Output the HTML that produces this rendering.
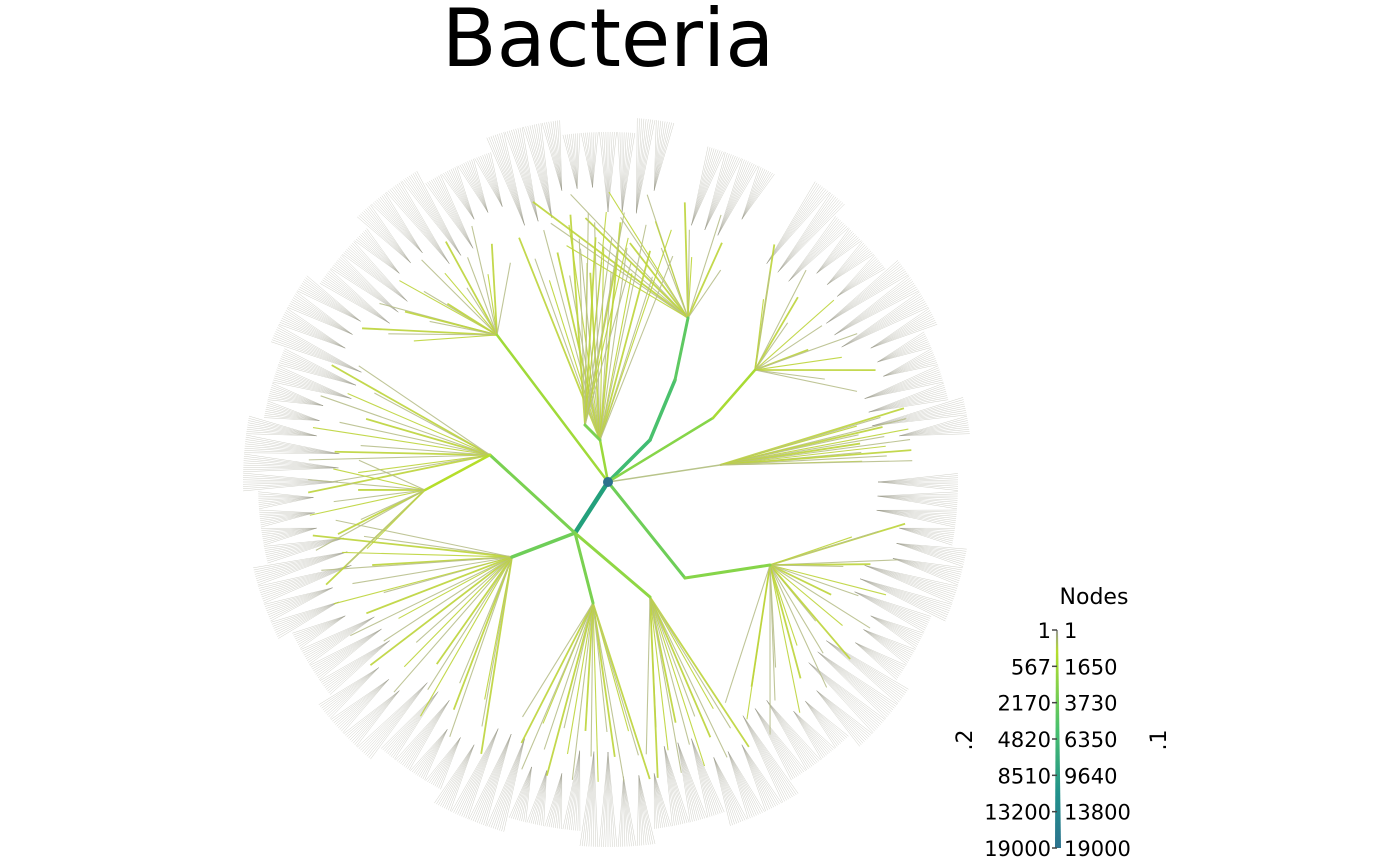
<!DOCTYPE html>
<html><head><meta charset="utf-8"><style>
html,body{margin:0;padding:0;background:#fff;}
svg{display:block;font-family:"DejaVu Sans","Liberation Sans",sans-serif;}
</style></head><body>
<svg id="chart" width="1400" height="866" viewBox="0 0 1400 866">
<text x="608" y="66" font-size="80" text-anchor="middle" fill="#000">Bacteria</text>
<g id="fuzz"></g>
<g id="edges"></g>
<g id="legend">
<text x="1094" y="604" font-size="22" text-anchor="middle">Nodes</text>
<text transform="translate(972,740) rotate(-90)" font-size="22" text-anchor="middle">.2</text>
<text transform="translate(1166,740) rotate(-90)" font-size="22" text-anchor="middle">.1</text>
</g>
</svg>
<script>
const cx=608, cy=482;
const cladeNames=["A","A1","A2","A3","E","H","B","B1","B2","C","C2","D","D1","G","G1","F","I"];
const hubX=[575,512,593,650,490,425,650,675,688,713,755,685,770,600,585,497,720];
const hubY=[533,557,603,597,455,490,440,380,318,418,370,578,565,440,425,335,465];
const parents=[-1,0,0,0,0,4,-1,6,7,-1,9,-1,11,-1,13,-1,-1];
const edgeColors=["#23a07c","#6ece58","#7ad151","#8fd744","#7ad151","#b5de2b","#3fbc73","#4ac16d","#5ec962","#86d549","#a8db34","#6ece58","#86d549","#9bd93c","#7ad151","#a0da39","#b8c48a"];
const edgeWidths=[4.5,3.5,3,3,3,2.5,3.5,3.5,3,2.5,2.5,3,3,2.5,3,2.5,1.5];
const leafStart=[0,115,82,62,178,160,0,0,-105,0,-55,0,8,250,262,212,-14];
const leafEnd=[0,172,110,82,205,185,0,0,-62,0,-20,0,62,286,276,246,-4];
const leafCount=[0,26,18,14,14,12,0,0,18,0,14,0,24,20,12,18,16];
const leafRadius=[0,300,300,300,300,300,0,0,290,0,290,0,300,260,270,290,305];
const gapStart=[-8,-78,-60];
const gapEnd=[-1,-74,-57];
const ns="http://www.w3.org/2000/svg";
const edgesG=document.getElementById('edges');
const fuzzG=document.getElementById('fuzz');
function line(g,x1,y1,x2,y2,c,w,o){
 const l=document.createElementNS(ns,'line');
 l.setAttribute('x1',x1);l.setAttribute('y1',y1);l.setAttribute('x2',x2);l.setAttribute('y2',y2);
 l.setAttribute('stroke',c);l.setAttribute('stroke-width',w);
 if(o!==undefined)l.setAttribute('stroke-opacity',o);
 g.appendChild(l);return l;}
const rad=d=>d*Math.PI/180;
// fans: source points on inner ring, thin lines spreading outward
for(let a=0;a<360;a+=3){
 const s=a>180?a-360:a;
 let skip=false;
 for(let k=0;k<gapStart.length;k++) if(s>=gapStart[k]&&s<=gapEnd[k]) skip=true;
 if(skip) continue;
 const r1=(Math.floor(a/9)%2)?295:270;
 const r2=(Math.floor(a/12)%2)?365:350;
 const sx=cx+r1*Math.cos(rad(a)), sy=cy+r1*Math.sin(rad(a));
 for(let j=0;j<9;j++){
  const b=a-1.4+j*0.35;
  const l=line(fuzzG,sx,sy,cx+r2*Math.cos(rad(b)),cy+r2*Math.sin(rad(b)),'#9a9a8a',0.4,0.6);
  
  
 }
}
for(let i=0;i<cladeNames.length;i++){
 const n=leafCount[i];
 for(let j=0;j<n;j++){
  const a=leafStart[i]+(leafEnd[i]-leafStart[i])*(n>1?j/(n-1):0.5);
  const r=leafRadius[i]-(j%3)*25;
  const l=line(edgesG,hubX[i],hubY[i],cx+r*Math.cos(rad(a)),cy+r*Math.sin(rad(a)),j%2?'#b8bf8c':'#bcd43a',j%4==0?1.8:1.1,0.9);
  
  
 }
}
for(let i=0;i<cladeNames.length;i++){
 const p=parents[i];
 const px=p<0?cx:hubX[p], py=p<0?cy:hubY[p];
 const l=line(edgesG,px,py,hubX[i],hubY[i],edgeColors[i],edgeWidths[i]);
 l.setAttribute('stroke-linecap','round');
 
 
}
const root=document.createElementNS(ns,'circle');
root.setAttribute('cx',cx);root.setAttribute('cy',cy);root.setAttribute('r',5);root.setAttribute('fill','#2c728e');


edgesG.appendChild(root);
const leftTicks=["1","567","2170","4820","8510","13200","19000"];
const rightTicks=["1","1650","3730","6350","9640","13800","19000"];
const lg=document.getElementById('legend');
const barTop=630,barBot=848;
const grad=`<defs><linearGradient id="cb" x1="0" y1="0" x2="0" y2="1"><stop offset="0" stop-color="#999"/><stop offset="0.1" stop-color="#b5de2b"/><stop offset="0.45" stop-color="#4ac16d"/><stop offset="0.75" stop-color="#21918c"/><stop offset="1" stop-color="#2c728e"/></linearGradient></defs>`;
lg.insertAdjacentHTML('beforeend',grad);
const bar=document.createElementNS(ns,'polygon');
bar.setAttribute('points',`1056,${barTop} 1058,${barTop} 1061,${barBot} 1055,${barBot}`);
bar.setAttribute('fill','url(#cb)');


lg.appendChild(bar);
for(let i=0;i<leftTicks.length;i++){
 const y=barTop+(barBot-barTop)*i/(leftTicks.length-1);
 const t1=document.createElementNS(ns,'text');
 t1.setAttribute('x',1051);t1.setAttribute('y',y+8);t1.setAttribute('font-size',21);t1.setAttribute('text-anchor','end');
 t1.textContent=leftTicks[i];
 
 
 lg.appendChild(t1);
 const t2=document.createElementNS(ns,'text');
 t2.setAttribute('x',1064);t2.setAttribute('y',y+8);t2.setAttribute('font-size',21);
 t2.textContent=rightTicks[i];
 
 
 lg.appendChild(t2);
 const tk=line(lg,1052,y,1057,y,'#444',1.5);
 
 
}
</script>
</body></html>
